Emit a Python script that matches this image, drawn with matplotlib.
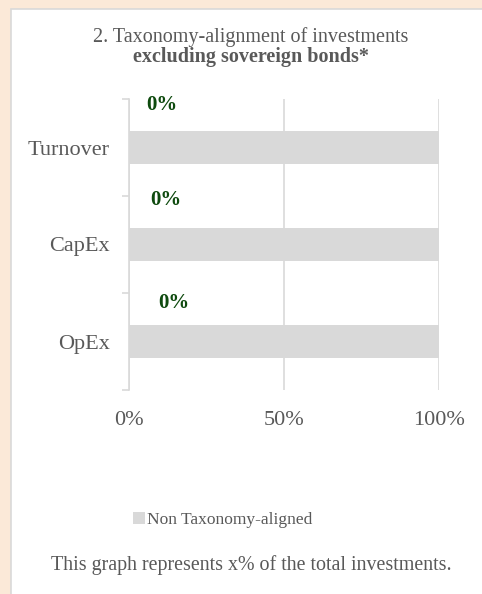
import matplotlib.pyplot as plt
from matplotlib.patches import Rectangle

plt.rcParams['font.family'] = ['Liberation Serif', 'DejaVu Serif']

# data
categories = ["Turnover", "CapEx", "OpEx"]
aligned = [0, 0, 0]
non_aligned = [100, 100, 100]
x_ticks = [0, 50, 100]
x_tick_labels = ["0%", "50%", "100%"]

TEXT = "#595959"
GREY = "#D9D9D9"
GREEN = "#0E4A0E"

# manual nudges of the value labels (as in the source chart)
label_dx = [10.6, 11.9, 14.5]
label_dy = [-0.44, -0.46, -0.40]

fig = plt.figure(figsize=(4.82, 5.94), dpi=100)
fig.patch.set_facecolor("#FBE9D8")

# white panel with a light border on left/top
fig.patches.append(Rectangle((11 / 482, -0.01), 1.0, (594 - 9) / 594 + 0.01,
                             transform=fig.transFigure, facecolor="white",
                             edgecolor=GREY, linewidth=1.2, zorder=-1))

ax = fig.add_axes([129 / 482, 1 - 390 / 594, 310 / 482, 291 / 594])
ax.set_facecolor("white")

y = list(range(len(categories)))
ax.barh(y, non_aligned, height=0.34, color=GREY, zorder=2,
        label="Non Taxonomy-aligned")

# value labels for the aligned share (0%)
for yi, v, dx, dy in zip(y, aligned, label_dx, label_dy):
    ax.text(v + dx, yi + dy, f"{v}%", color=GREEN, fontsize=15,
            fontweight="bold", ha="center", va="center")

ax.set_xlim(0, 100)
ax.set_ylim(len(categories) - 0.5, -0.5)
ax.set_xticks(x_ticks)
ax.set_xticklabels(x_tick_labels)
ax.set_yticks(y)
ax.set_yticklabels(categories)
ax.set_yticks([i - 0.5 for i in range(len(categories) + 1)], minor=True)

ax.tick_params(axis="x", length=0, pad=15, labelsize=16, labelcolor=TEXT)
ax.tick_params(axis="y", which="major", length=0, pad=14, labelsize=16,
               labelcolor=TEXT)
ax.tick_params(axis="y", which="minor", length=5, color=GREY, width=1.2)

for s in ["top", "right", "bottom"]:
    ax.spines[s].set_visible(False)
ax.spines["left"].set_color(GREY)
ax.spines["left"].set_linewidth(1.2)
ax.xaxis.grid(True, color=GREY, linewidth=1.2, zorder=1)
ax.set_axisbelow(True)

fig.text(251 / 482, 1 - 37 / 594, "2. Taxonomy-alignment of investments",
         ha="center", va="center", fontsize=14.5, color=TEXT)
fig.text(251 / 482, 1 - 57 / 594, "excluding sovereign bonds*",
         ha="center", va="center", fontsize=14.5, color=TEXT,
         fontweight="bold")

leg = fig.legend(loc="center", bbox_to_anchor=(223 / 482, 1 - 520 / 594),
                 frameon=False, fontsize=12.5, handlelength=0.65,
                 handleheight=0.65, handletextpad=0.15)
for t in leg.get_texts():
    t.set_color(TEXT)

fig.text(251 / 482, 1 - 565 / 594,
         "This graph represents x% of the total investments.",
         ha="center", va="center", fontsize=14.4, color=TEXT)

fig.savefig("out.png", dpi=100, facecolor=fig.get_facecolor())
